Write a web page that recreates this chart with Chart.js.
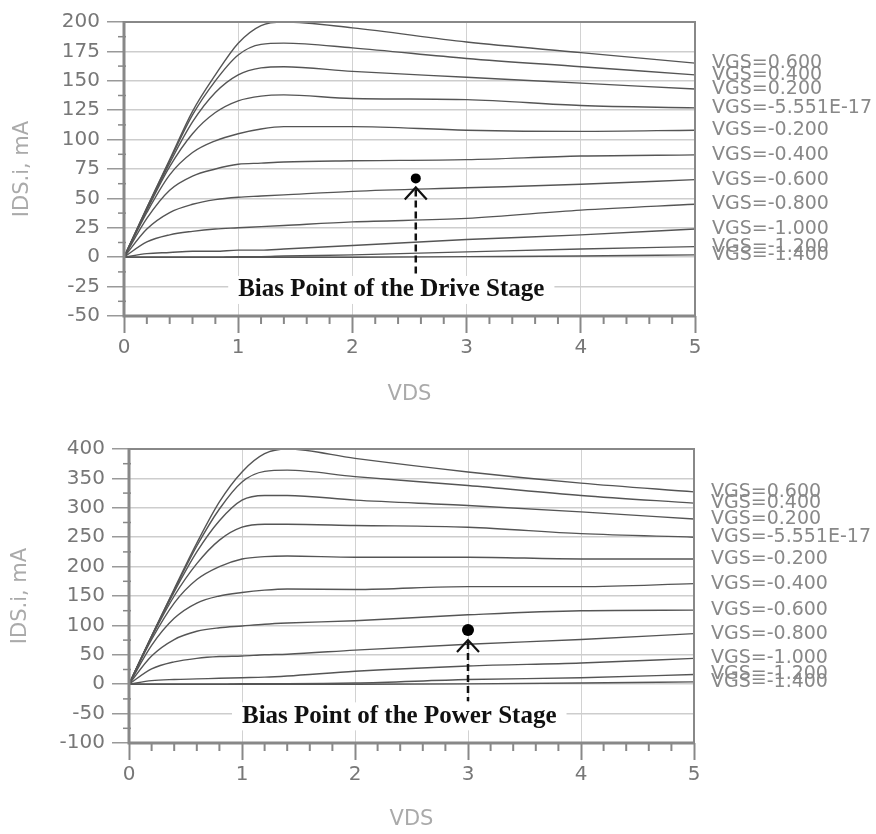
<!DOCTYPE html>
<html><head><meta charset="utf-8">
<script src="https://cdn.jsdelivr.net/npm/chart.js@4.4.1/dist/chart.umd.min.js"></script>
<style>
html,body{margin:0;padding:0;background:#fff;}
#wrap{position:relative;width:876px;height:834px;background:#fff;}
canvas{position:absolute;left:0;}
</style></head><body>
<div id="wrap">
<canvas id="c1" width="876" height="420" style="top:0;width:876px;height:420px"></canvas>
<canvas id="c2" width="876" height="414" style="top:420px;width:876px;height:414px"></canvas>
</div>
<script>
// ---------- data ----------
const vds = [0, 0.2, 0.4, 0.6, 0.8, 1.0, 1.2, 1.4, 2, 3, 4, 5];
const vgsLabels = ['VGS=0.600','VGS=0.400','VGS=0.200','VGS=-5.551E-17','VGS=-0.200','VGS=-0.400','VGS=-0.600','VGS=-0.800','VGS=-1.000','VGS=-1.200','VGS=-1.400'];

// Drive stage IDS (mA)
const driveVgsP06 = [0, 42, 83, 124, 155, 182, 197, 200, 195, 183, 174, 165];
const driveVgsP04 = [0, 42, 82, 121, 150, 172, 181, 182, 178, 169, 162, 155];
const driveVgsP02 = [0, 41, 80, 115, 140, 155, 161, 162, 158, 153, 148, 143];
const driveVgs00  = [0, 40, 77, 105, 123, 133, 137, 138, 135, 134, 129, 127];
const driveVgsM02 = [0, 38, 70, 89, 99, 105, 109, 111, 111, 108, 107, 108];
const driveVgsM04 = [0, 33, 57, 69, 75, 79, 80, 81, 82, 83, 86, 87];
const driveVgsM06 = [0, 24, 38, 45, 49, 51, 52, 53, 56, 59, 62, 66];
const driveVgsM08 = [0, 13, 19, 22, 24, 25, 26, 27, 30, 33, 40, 45];
const driveVgsM10 = [0, 3, 4, 5, 5, 6, 6, 7, 10, 15, 19, 24];
const driveVgsM12 = [0, 0, 0, 0, 0, 0.5, 0.5, 1, 2, 4.5, 7, 9];
const driveVgsM14 = [0, 0, 0, 0, 0, 0, 0, 0, 0, 0.5, 1, 2];

// Power stage IDS (mA)
const powerVgsP06 = [0, 82, 162, 240, 310, 361, 392, 400, 384, 361, 342, 327];
const powerVgsP04 = [0, 82, 160, 235, 298, 344, 362, 364, 353, 338, 321, 308];
const powerVgsP02 = [0, 81, 157, 225, 278, 313, 321, 321, 313, 304, 293, 281];
const powerVgs00  = [0, 80, 150, 205, 245, 267, 272, 272, 270, 267, 256, 250];
const powerVgsM02 = [0, 76, 138, 178, 200, 213, 217, 218, 216, 216, 213, 213];
const powerVgsM04 = [0, 66, 112, 138, 150, 156, 160, 162, 161, 166, 166, 171];
const powerVgsM06 = [0, 48, 76, 90, 96, 99, 102, 104, 108, 118, 125, 126];
const powerVgsM08 = [0, 26, 38, 44, 47, 48, 50, 51, 58, 68, 76, 86];
const powerVgsM10 = [0, 6, 8, 9, 10, 11, 12, 14, 22, 31, 36, 44];
const powerVgsM12 = [0, 0, 0, 0, 0, 1, 1, 1, 2, 8, 11, 16.5];
const powerVgsM14 = [0, 0, 0, 0, 0, 0, 0, 0, 0, 0.5, 2, 4];

const xTickValues = [0, 1, 2, 3, 4, 5];
const driveYTicks = [-50, -25, 0, 25, 50, 75, 100, 125, 150, 175, 200];
const powerYTicks = [-100, -50, 0, 50, 100, 150, 200, 250, 300, 350, 400];

const driveBias = {x: 2.555, y: 67};
const powerBias = {x: 3.0, y: 92};
const driveBiasLabel = 'Bias Point of the Drive Stage';
const powerBiasLabel = 'Bias Point of the Power Stage';
const driveLabelAt = {x: 1.0, y: -27};
const powerLabelAt = {x: 1.0, y: -53};

const driveSeries = [driveVgsP06, driveVgsP04, driveVgsP02, driveVgs00, driveVgsM02, driveVgsM04, driveVgsM06, driveVgsM08, driveVgsM10, driveVgsM12, driveVgsM14];
const powerSeries = [powerVgsP06, powerVgsP04, powerVgsP02, powerVgs00, powerVgsM02, powerVgsM04, powerVgsM06, powerVgsM08, powerVgsM10, powerVgsM12, powerVgsM14];

const SANS = '"DejaVu Sans", "Liberation Sans", Arial, sans-serif';

// ---------- chart builder ----------
function build(canvasId, series, yTicks, bias, biasText, labelAt, geom) {
  const datasets = series.map((arr, k) => ({
    type: 'line',
    label: vgsLabels[k],
    data: vds.map((x, i) => ({x: x, y: arr[i]})),
    borderColor: '#555',
    borderWidth: 1.4,
    pointRadius: 0,
    fill: false,
    cubicInterpolationMode: 'monotone'
  }));
  datasets.push({
    type: 'scatter',
    label: 'bias',
    data: [bias],
    pointRadius: geom.dotR,
    pointBackgroundColor: '#000',
    pointBorderColor: '#000',
    borderWidth: 0
  });

  const deco = {
    id: 'deco',
    afterDatasetsDraw(chart) {
      const ctx = chart.ctx, ca = chart.chartArea;
      const xs = chart.scales.x, ys = chart.scales.y;
      ctx.save();
      // frame
      ctx.strokeStyle = '#888';
      ctx.lineWidth = 2;
      ctx.beginPath();
      ctx.moveTo(ca.left, ca.top); ctx.lineTo(ca.right, ca.top); ctx.lineTo(ca.right, ca.bottom);
      ctx.stroke();
      ctx.lineWidth = 3;
      ctx.beginPath();
      ctx.moveTo(ca.left, ca.top - 1); ctx.lineTo(ca.left, ca.bottom); ctx.lineTo(ca.right + 1, ca.bottom);
      ctx.stroke();
      // minor ticks y
      ctx.lineWidth = 1.5;
      ctx.strokeStyle = '#888';
      for (let i = 0; i < yTicks.length - 1; i++) {
        const v = (yTicks[i] + yTicks[i + 1]) / 2;
        const py = ys.getPixelForValue(v);
        ctx.beginPath(); ctx.moveTo(ca.left - 6, py); ctx.lineTo(ca.left + 2, py); ctx.stroke();
      }
      // minor ticks x
      ctx.lineWidth = 2;
      for (let i = 0; i < xTickValues.length - 1; i++) {
        for (let j = 1; j < 5; j++) {
          const v = xTickValues[i] + (xTickValues[i + 1] - xTickValues[i]) * j / 5;
          const px = xs.getPixelForValue(v);
          ctx.beginPath(); ctx.moveTo(px, ca.bottom); ctx.lineTo(px, ca.bottom + 8); ctx.stroke();
        }
      }
      // curve end labels
      ctx.fillStyle = '#888';
      ctx.font = '19px ' + SANS;
      ctx.textBaseline = 'middle';
      ctx.textAlign = 'left';
      series.forEach((arr, k) => {
        const py = ys.getPixelForValue(arr[arr.length - 1]);
        ctx.fillText(vgsLabels[k], ca.right + 17, py);
      });
      // bias annotation text
      ctx.font = 'bold 25px "Liberation Serif", "Times New Roman", serif';
      const tx = xs.getPixelForValue(labelAt.x);
      const ty = ys.getPixelForValue(labelAt.y);
      const tw = ctx.measureText(biasText).width;
      ctx.fillStyle = '#fff';
      ctx.fillRect(tx - 10, ty - 13, tw + 20, 28);
      ctx.fillStyle = '#111';
      ctx.textBaseline = 'middle';
      ctx.fillText(biasText, tx, ty + 1);
      // arrow
      const bx = xs.getPixelForValue(bias.x);
      const by = ys.getPixelForValue(bias.y);
      const apex = by + geom.dotR + 4;
      ctx.strokeStyle = '#111';
      ctx.lineWidth = 2.2;
      ctx.beginPath();
      ctx.moveTo(bx - 11, apex + 12); ctx.lineTo(bx, apex); ctx.lineTo(bx + 11, apex + 12);
      ctx.stroke();
      ctx.setLineDash([7, 4]);
      ctx.lineWidth = 2.5;
      ctx.beginPath();
      ctx.moveTo(bx, apex + 2); ctx.lineTo(bx, ty - 14);
      ctx.stroke();
      ctx.setLineDash([]);
      ctx.restore();
    }
  };

  return new Chart(document.getElementById(canvasId), {
    type: 'line',
    data: {datasets},
    options: {
      responsive: false,
      animation: false,
      devicePixelRatio: 1,
      layout: {padding: {left: 0, top: geom.top, right: geom.right, bottom: 0}},
      plugins: {legend: {display: false}, tooltip: {enabled: false}},
      scales: {
        x: {
          type: 'linear', min: 0, max: 5,
          afterFit: s => { s.height = geom.xH; },
          afterBuildTicks: s => { s.ticks = xTickValues.map(v => ({value: v})); },
          border: {display: false},
          grid: {color: '#d2d2d2', lineWidth: 1, tickLength: 17, tickColor: '#888', tickWidth: 2},
          ticks: {color: '#777', font: {size: 20, family: SANS}, padding: 3, maxRotation: 0},
          title: {display: true, text: 'VDS', color: '#aaa', font: {size: 21, family: SANS}, padding: {top: 0, bottom: geom.xTitlePad}}
        },
        y: {
          type: 'linear', min: yTicks[0], max: yTicks[yTicks.length - 1],
          afterFit: s => { s.width = geom.yW; },
          afterBuildTicks: s => { s.ticks = yTicks.map(v => ({value: v})); },
          border: {display: false},
          grid: {color: '#cdcdcd', lineWidth: 1.5, tickLength: 17, tickColor: '#999', tickWidth: 1.5},
          ticks: {color: '#777', font: {size: 20, family: SANS}, padding: 7},
          title: {display: true, text: 'IDS.i, mA', color: '#aaa', font: {size: 21, family: SANS}, padding: {top: geom.yTitlePad, bottom: 0}}
        }
      }
    },
    plugins: [deco]
  });
}

build('c1', driveSeries, driveYTicks, driveBias, driveBiasLabel, driveLabelAt,
  {top: 22, right: 181, xH: 104, yW: 124, xTitlePad: 13, yTitlePad: 10, dotR: 5});
build('c2', powerSeries, powerYTicks, powerBias, powerBiasLabel, powerLabelAt,
  {top: 29, right: 182, xH: 91, yW: 129, xTitlePad: 2, yTitlePad: 8, dotR: 6});
</script>
</body></html>
